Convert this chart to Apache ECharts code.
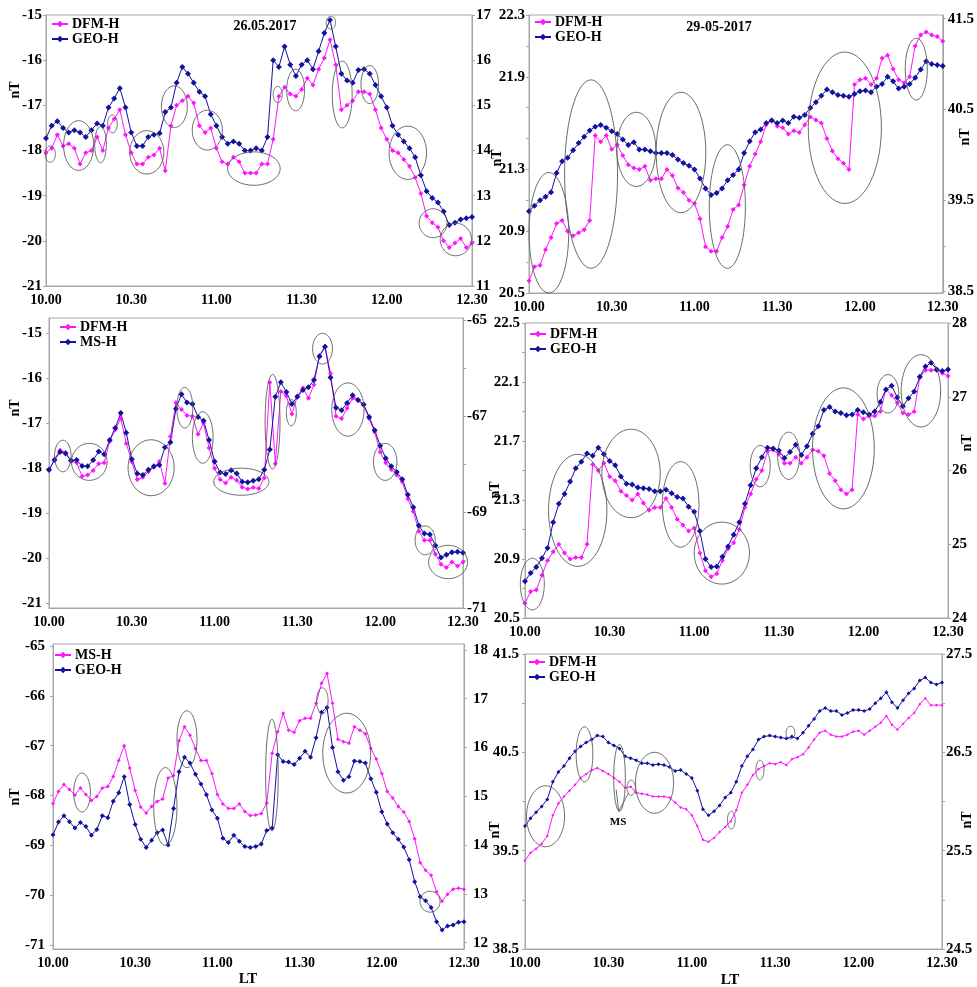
<!DOCTYPE html>
<html>
<head>
<meta charset="utf-8">
<script src="https://cdn.jsdelivr.net/npm/echarts@6/dist/echarts.min.js"></script>
<style>
  html, body { margin: 0; padding: 0; background: #fff; }
  #chart { width: 977px; height: 987px; }
</style>
</head>
<body>
<div id="chart"></div>
<script>
// Local time, minutes after 10:00, one sample every 2 minutes
const minutes = [0,2,4,6,8,10,12,14,16,18,20,22,24,26,28,30,32,34,36,38,40,42,44,46,48,50,52,54,56,58,
  60,62,64,66,68,70,72,74,76,78,80,82,84,86,88,90,92,94,96,98,100,102,104,106,108,110,112,114,116,118,
  120,122,124,126,128,130,132,134,136,138,140,142,144,146,148,150];
const timeTicks = [0, 30, 60, 90, 120, 150];
const timeTickLabels = ['10.00', '10.30', '11.00', '11.30', '12.00', '12.30'];

// 26.05.2017 — DFM-H vs GEO-H
const dfm26a = [-18.05,-17.95,-17.65,-17.9,-17.85,-17.95,-18.3,-18.05,-18.0,-17.7,
  -18.0,-17.5,-17.3,-17.1,-17.65,-18.05,-18.3,-18.3,-18.15,-18.1,
  -17.95,-18.45,-17.45,-17.0,-16.9,-16.8,-16.95,-17.45,-17.6,-17.5,
  -17.95,-18.25,-18.3,-18.15,-18.25,-18.5,-18.5,-18.5,-18.3,-18.3,
  -17.75,-16.8,-16.6,-16.75,-16.8,-16.65,-16.4,-16.55,-16.2,-15.95,
  -15.55,-16.1,-17.1,-17.0,-16.9,-16.7,-16.7,-16.75,-17.1,-17.5,
  -17.75,-18.0,-18.05,-18.2,-18.35,-18.6,-18.95,-19.45,-19.6,-19.7,
  -20.0,-20.15,-20.05,-19.95,-20.15,-20.05];
const geo26a = [14.27,14.55,14.65,14.5,14.4,14.45,14.4,14.3,14.45,14.6,
  14.55,14.95,15.15,15.38,14.95,14.4,14.1,14.1,14.3,14.35,
  14.38,14.85,14.95,15.5,15.85,15.7,15.5,15.3,15.2,14.8,
  14.55,14.3,14.15,14.2,14.15,14.0,14.0,14.05,14.0,14.3,
  16.0,15.85,16.3,15.9,15.65,15.9,16.0,15.8,16.2,16.6,
  16.89,16.3,15.7,15.55,15.5,15.78,15.8,15.7,15.45,15.2,
  14.95,14.55,14.35,14.2,14.05,13.85,13.45,13.1,12.95,12.85,
  12.65,12.35,12.4,12.47,12.5,12.53];

// 26.05.2017 — DFM-H vs MS-H
const dfm26b = [-18.05,-17.8,-17.6,-17.65,-17.85,-17.88,-18.18,-18.15,-18.05,-17.9,
  -17.88,-17.4,-17.15,-16.9,-17.45,-17.86,-18.25,-18.2,-18.08,-17.98,
  -17.85,-18.34,-17.3,-16.55,-16.7,-16.83,-16.85,-17.25,-17.0,-17.55,
  -18.0,-18.25,-18.33,-18.2,-18.27,-18.42,-18.46,-18.43,-18.45,-18.22,
  -16.1,-17.9,-16.3,-16.4,-16.8,-16.4,-16.22,-16.45,-16.15,-15.5,
  -15.3,-15.9,-16.85,-16.9,-16.67,-16.45,-16.5,-16.6,-16.9,-17.2,
  -17.64,-17.88,-18.03,-18.15,-18.3,-18.68,-18.96,-19.4,-19.6,-19.6,
  -19.9,-20.13,-20.2,-20.08,-20.17,-20.08];
const ms26b = [-68.12,-67.92,-67.75,-67.78,-67.93,-67.92,-68.04,-68.05,-67.92,-67.74,
  -67.8,-67.5,-67.25,-66.94,-67.35,-67.9,-68.2,-68.23,-68.12,-68.05,
  -68.02,-67.65,-67.55,-66.85,-66.55,-66.72,-66.75,-67.02,-67.1,-67.5,
  -67.95,-68.18,-68.21,-68.13,-68.2,-68.37,-68.38,-68.35,-68.32,-68.12,
  -67.7,-66.6,-66.3,-66.5,-66.75,-66.6,-66.46,-66.4,-66.25,-65.76,
  -65.56,-66.2,-66.83,-66.88,-66.73,-66.57,-66.67,-66.76,-67.02,-67.3,
  -67.62,-67.88,-68.05,-68.17,-68.32,-68.64,-68.9,-69.28,-69.45,-69.47,
  -69.7,-69.95,-69.89,-69.84,-69.83,-69.85];

// 26.05.2017 — MS-H vs GEO-H
const ms26c = [-68.16,-67.92,-67.78,-67.88,-67.99,-67.85,-67.98,-68.1,-68.02,-67.85,
  -67.82,-67.62,-67.3,-67.0,-67.45,-67.9,-68.23,-68.35,-68.22,-68.12,
  -68.07,-67.65,-67.6,-66.9,-66.62,-66.79,-67.06,-67.3,-67.3,-67.56,
  -67.98,-68.17,-68.26,-68.26,-68.17,-68.32,-68.4,-68.39,-68.36,-68.15,
  -67.15,-66.72,-66.35,-66.69,-66.73,-66.5,-66.45,-66.45,-66.15,-65.75,
  -65.55,-66.15,-66.87,-66.92,-66.95,-66.62,-66.69,-66.76,-67.05,-67.27,
  -67.56,-67.92,-68.05,-68.22,-68.33,-68.52,-68.87,-69.35,-69.5,-69.6,
  -69.93,-70.12,-69.98,-69.88,-69.86,-69.88];
const geo26c = [14.21,14.47,14.6,14.48,14.35,14.46,14.38,14.2,14.32,14.6,
  14.56,14.9,15.07,15.4,14.83,14.42,14.12,13.95,14.1,14.25,
  14.31,14.0,14.75,15.5,15.8,15.68,15.45,15.25,15.03,14.72,
  14.55,14.14,14.05,14.2,14.08,13.97,13.95,13.97,14.02,14.3,
  14.35,15.85,15.71,15.7,15.65,15.78,15.92,15.8,16.2,16.72,
  16.82,16.0,15.5,15.33,15.4,15.72,15.71,15.68,15.36,15.08,
  14.68,14.43,14.25,14.12,13.96,13.7,13.25,12.94,12.86,12.72,
  12.43,12.26,12.34,12.36,12.42,12.43];

// 29-05-2017 — DFM-H vs GEO-H, three station pairs
const dfm29a = [20.58,20.67,20.68,20.78,20.86,20.95,20.97,20.9,20.87,20.89,
  20.91,20.97,21.52,21.48,21.52,21.43,21.46,21.39,21.33,21.31,
  21.3,21.32,21.23,21.24,21.24,21.3,21.26,21.18,21.15,21.1,
  21.08,20.98,20.8,20.77,20.77,20.86,20.93,21.04,21.07,21.2,
  21.32,21.4,21.48,21.59,21.62,21.58,21.57,21.53,21.55,21.54,
  21.59,21.64,21.62,21.6,21.5,21.42,21.37,21.34,21.3,21.85,
  21.88,21.89,21.85,21.89,22.02,22.04,21.95,21.88,21.86,21.9,
  22.1,22.17,22.19,22.17,22.16,22.13];
const geo29a = [39.38,39.44,39.5,39.54,39.59,39.8,39.93,39.97,40.05,40.13,
  40.2,40.27,40.31,40.33,40.3,40.26,40.23,40.17,40.11,40.14,
  40.06,40.06,40.04,40.02,40.02,40.02,40.0,39.95,39.91,39.88,
  39.84,39.74,39.63,39.56,39.58,39.63,39.72,39.78,39.84,40.02,
  40.15,40.25,40.28,40.35,40.38,40.35,40.38,40.35,40.42,40.41,
  40.44,40.52,40.58,40.65,40.72,40.69,40.66,40.65,40.64,40.67,
  40.7,40.71,40.69,40.75,40.78,40.86,40.81,40.73,40.75,40.78,
  40.85,40.94,41.03,41.0,40.99,40.98];

const dfm29b = [20.6,20.68,20.69,20.79,20.89,20.95,21.0,20.94,20.9,20.91,
  20.91,21.0,21.54,21.5,21.55,21.46,21.43,21.36,21.33,21.3,
  21.34,21.28,21.23,21.25,21.25,21.31,21.25,21.17,21.13,21.09,
  21.11,20.94,20.82,20.78,20.8,20.89,20.97,21.01,21.1,21.25,
  21.34,21.44,21.5,21.63,21.64,21.61,21.55,21.55,21.59,21.55,
  21.59,21.64,21.63,21.6,21.48,21.43,21.37,21.34,21.37,21.88,
  21.85,21.87,21.87,21.9,22.05,22.01,21.96,21.89,21.88,21.9,
  22.13,22.18,22.18,22.18,22.16,22.14];
const geo29b = [24.5,24.61,24.69,24.81,24.95,25.3,25.55,25.68,25.85,26.03,
  26.12,26.23,26.2,26.31,26.22,26.13,26.07,25.92,25.82,25.81,
  25.77,25.76,25.75,25.72,25.72,25.74,25.69,25.64,25.62,25.51,
  25.44,25.18,24.8,24.69,24.7,24.83,24.97,25.13,25.3,25.55,
  25.8,26.03,26.18,26.31,26.3,26.27,26.17,26.25,26.35,26.21,
  26.33,26.5,26.6,26.82,26.86,26.8,26.78,26.75,26.76,26.82,
  26.79,26.76,26.8,26.93,27.1,27.15,26.99,26.87,26.98,27.07,
  27.27,27.41,27.46,27.37,27.35,27.37];

const dfm29c = [39.4,39.48,39.52,39.57,39.65,39.86,39.98,40.05,40.11,40.17,
  40.24,40.28,40.32,40.34,40.31,40.28,40.24,40.2,40.14,40.15,
  40.09,40.08,40.07,40.05,40.05,40.05,40.04,39.99,39.94,39.92,
  39.86,39.75,39.61,39.59,39.63,39.69,39.74,39.8,39.91,40.09,
  40.17,40.27,40.33,40.36,40.39,40.38,40.4,40.37,40.43,40.45,
  40.48,40.55,40.63,40.7,40.72,40.68,40.66,40.66,40.68,40.71,
  40.72,40.68,40.72,40.76,40.8,40.87,40.78,40.73,40.79,40.85,
  40.9,40.99,41.05,40.98,40.98,40.98];
const geo29c = [25.75,25.83,25.89,25.95,26.02,26.2,26.3,26.36,26.44,26.51,
  26.56,26.6,26.63,26.67,26.66,26.6,26.57,26.54,26.46,26.44,
  26.42,26.39,26.39,26.37,26.38,26.37,26.35,26.31,26.32,26.28,
  26.24,26.11,25.92,25.86,25.9,25.96,26.04,26.09,26.2,26.36,
  26.46,26.53,26.63,26.66,26.67,26.66,26.65,26.64,26.66,26.64,
  26.7,26.77,26.84,26.92,26.95,26.92,26.92,26.88,26.9,26.93,
  26.93,26.92,26.94,27.0,27.05,27.11,27.01,26.95,27.03,27.1,
  27.15,27.23,27.26,27.21,27.19,27.21];

// Highlighted intervals: [minute, value, half-width (min), half-height (nT)] on the left axis
const rings26a = [[1.5,-18.08,1.8,0.18],[11.5,-17.89,5.3,0.55],[19.2,-17.87,2.05,0.4],[23.4,-17.41,1.7,0.2],
  [35.5,-18.04,6.0,0.48],[45.2,-17.03,4.55,0.46],[56.8,-17.55,5.3,0.44],[73.2,-18.4,9.25,0.37],
  [81.6,-16.76,1.6,0.18],[87.9,-16.66,3.15,0.46],[100.3,-15.17,1.65,0.14],[104.3,-16.76,3.5,0.74],
  [114.0,-16.54,3.1,0.42],[127.4,-18.05,6.6,0.59],[136.3,-19.61,4.9,0.32],[144.3,-19.97,5.5,0.36]];
const rings26b = [[5.0,-17.73,3.0,0.35],[14.6,-17.86,6.45,0.41],[37.0,-17.99,8.35,0.62],[49.2,-16.66,2.9,0.45],
  [55.7,-17.32,3.75,0.57],[69.7,-18.3,10.0,0.3],[81.0,-16.97,2.7,1.05],[87.8,-16.77,1.8,0.29],
  [99.1,-15.35,3.6,0.34],[108.3,-16.7,5.85,0.59],[121.8,-17.86,4.25,0.41],[136.3,-19.6,3.65,0.32],
  [144.6,-20.08,7.05,0.37]];
const rings26c = [[10.6,-67.94,3.05,0.39],[41.0,-68.22,4.25,0.78],[48.9,-66.87,3.65,0.57],[79.9,-67.59,2.3,1.12],
  [98.3,-66.1,2.1,0.26],[107.2,-67.15,8.75,0.8],[137.6,-70.13,3.65,0.21]];
const rings29a = [[7.2,20.89,7.2,0.39],[22.5,21.27,9.6,0.61],[38.9,21.43,7.05,0.24],[55.1,21.41,9.0,0.39],
  [71.9,21.06,6.55,0.4],[114.5,21.57,13.25,0.49],[140.4,21.95,4.0,0.2]];
const rings29b = [[2.6,20.73,4.25,0.175],[18.7,21.23,10.35,0.38],[37.6,21.48,10.35,0.3],[55.2,21.27,6.5,0.29],
  [69.8,20.94,9.8,0.21],[83.4,21.53,3.55,0.14],[93.5,21.6,3.9,0.16],[112.9,21.65,10.95,0.41],
  [128.7,22.02,3.85,0.13],[140.4,22.04,7.0,0.245]];
const rings29c = [[7.4,39.85,6.85,0.31],[21.4,40.48,3.0,0.28],[34.0,40.24,2.1,0.34],[38.2,40.14,1.5,0.077],
  [46.6,40.19,6.85,0.31],[74.2,39.81,1.4,0.09],[84.5,40.32,1.45,0.1],[95.5,40.7,1.6,0.065]];
// Pointer lines from the "MS" note: [from minute, from value, to minute, to value]
const msPointers = [[33.7,39.9,32.8,40.12],[33.7,39.9,37.3,40.09]];

const FONT = '"Liberation Serif", "Times New Roman", serif';
const MAGENTA = '#ff14ff';
const BLUE = '#12129e';
const FRAME = '#a6a6a6';

const range = (a, b, s) => { const r = []; for (let v = a; v <= b + 1e-9; v += s) r.push(+v.toFixed(2)); return r; };

const panels = [
  { grid: { left: 46, top: 15, width: 426, height: 271 },
    yL: { min: -21, max: -15, labels: range(-21, -15, 1), margin: 4 },
    yR: { min: 11, max: 17, labels: range(11, 17, 1), margin: 4 },
    a: { name: 'DFM-H', data: dfm26a }, b: { name: 'GEO-H', data: geo26a },
    rings: rings26a, legend: { left: 51, top: 17 }, xMargin: 7, sym: 5 },
  { grid: { left: 529, top: 15, width: 415, height: 278 },
    yL: { min: 20.5, max: 22.3, labels: [20.5, 20.9, 21.3, 21.9, 22.3], ticks: range(20.5, 22.3, 0.2), margin: 4, dec: 1 },
    yR: { min: 38.48, max: 41.54, labels: [38.5, 39.5, 40.5, 41.5], ticks: [38.5, 39, 39.5, 40.5, 41.5], margin: 5, dec: 1 },
    a: { name: 'DFM-H', data: dfm29a }, b: { name: 'GEO-H', data: geo29a },
    rings: rings29a, legend: { left: 534, top: 15 }, xMargin: 7, sym: 5 },
  { grid: { left: 49, top: 318, width: 414, height: 290 },
    yL: { min: -21.1, max: -14.67, labels: range(-21, -15, 1), margin: 7 },
    yR: { min: -71, max: -64.96, labels: [-71, -69, -67, -65], ticks: range(-71, -65, 1), margin: 4 },
    a: { name: 'DFM-H', data: dfm26b }, b: { name: 'MS-H', data: ms26b },
    rings: rings26b, legend: { left: 59, top: 320 }, xMargin: 7, sym: 5 },
  { grid: { left: 525, top: 323, width: 423, height: 295 },
    yL: { min: 20.5, max: 22.5, labels: range(20.5, 22.5, 0.4), ticks: range(20.5, 22.5, 0.2), margin: 5, dec: 1 },
    yR: { min: 24, max: 28, labels: range(24, 28, 1), margin: 4 },
    a: { name: 'DFM-H', data: dfm29b }, b: { name: 'GEO-H', data: geo29b },
    rings: rings29b, legend: { left: 529, top: 327 }, xMargin: 7, sym: 5 },
  { grid: { left: 53, top: 644, width: 411, height: 305 },
    yL: { min: -71.08, max: -64.96, labels: range(-71, -65, 1), margin: 8 },
    yR: { min: 11.87, max: 18.12, labels: range(12, 18, 1), margin: 9 },
    a: { name: 'MS-H', data: ms26c }, b: { name: 'GEO-H', data: geo26c },
    rings: rings26c, legend: { left: 54, top: 648 }, xMargin: 7, sym: 4 },
  { grid: { left: 525, top: 654, width: 417, height: 295 },
    yL: { min: 38.5, max: 41.5, labels: [38.5, 39.5, 40.5, 41.5], ticks: range(38.5, 41.5, 0.5), margin: 6, dec: 1 },
    yR: { min: 24.5, max: 27.5, labels: [24.5, 25.5, 26.5, 27.5], ticks: range(24.5, 27.5, 0.5), margin: 4, dec: 1 },
    a: { name: 'DFM-H', data: dfm29c }, b: { name: 'GEO-H', data: geo29c },
    rings: rings29c, legend: { left: 528, top: 655 }, xMargin: 7, sym: 3 }
];

const labelFont = { color: '#000', fontFamily: FONT, fontWeight: 'bold', fontSize: 15 };

function yAxis(gridIndex, position, ax) {
  return {
    type: 'value', gridIndex, position, min: ax.min, max: ax.max,
    axisLine: { show: true, lineStyle: { color: FRAME, width: 1 } },
    axisTick: { show: true, length: 3, customValues: ax.ticks || ax.labels, lineStyle: { color: FRAME } },
    axisLabel: Object.assign({ customValues: ax.labels, margin: ax.margin,
      formatter: v => ax.dec ? Number(v).toFixed(ax.dec) : String(Math.round(v)) }, labelFont),
    splitLine: { show: false }
  };
}

const option = {
  animation: false,
  backgroundColor: '#fff',
  grid: [], xAxis: [], yAxis: [], series: [], legend: [], graphic: []
};

panels.forEach((p, i) => {
  option.grid.push(Object.assign({ show: true, borderColor: FRAME, borderWidth: 1, backgroundColor: 'transparent' }, p.grid));
  option.xAxis.push({
    type: 'value', gridIndex: i, min: 0, max: 150,
    axisLine: { show: true, lineStyle: { color: FRAME } },
    axisTick: { show: false }, splitLine: { show: false },
    axisLabel: Object.assign({ customValues: timeTicks, margin: p.xMargin, fontSize: 14,
      formatter: v => timeTickLabels[timeTicks.indexOf(Math.round(v))] }, labelFont, { fontSize: 14 })
  });
  option.yAxis.push(yAxis(i, 'left', p.yL));
  option.yAxis.push(yAxis(i, 'right', p.yR));

  const key = '#' + i;
  const lineSeries = (s, color, yIdx, symbol, size) => ({
    type: 'line', name: s.name + key, xAxisIndex: i, yAxisIndex: yIdx,
    data: minutes.map((m, k) => [m, s.data[k]]),
    symbol, symbolSize: size, showSymbol: true, showAllSymbol: true,
    lineStyle: { color, width: 1 }, itemStyle: { color }, z: 3
  });
  option.series.push(lineSeries(p.a, MAGENTA, 2 * i, 'diamond', p.sym));
  option.series.push(lineSeries(p.b, BLUE, 2 * i + 1, 'diamond', p.sym + 1));

  option.series.push({
    type: 'custom', xAxisIndex: i, yAxisIndex: 2 * i, silent: true, z: 4,
    data: p.rings, encode: { x: 0, y: 1 }, clip: false,
    renderItem(params, api) {
      const c = api.coord([api.value(0), api.value(1)]);
      const s = api.size([api.value(2), api.value(3)]);
      const pts = [];
      for (let k = 0; k < 72; k++) {
        const a = k / 72 * Math.PI * 2;
        pts.push([c[0] + s[0] * Math.cos(a), c[1] + s[1] * Math.sin(a)]);
      }
      return { type: 'polygon', shape: { points: pts },
        style: { fill: 'none', stroke: '#5a5a5a', lineWidth: 0.9 } };
    }
  });

  option.legend.push({
    orient: 'vertical', left: p.legend.left, top: p.legend.top,
    itemWidth: 16, itemHeight: 8, itemGap: 1, padding: 0, selectedMode: false,
    data: [p.a.name + key, p.b.name + key],
    formatter: n => n.split('#')[0],
    textStyle: { color: '#000', fontFamily: FONT, fontWeight: 'bold', fontSize: 14, padding: [0, 0, 0, -1] }
  });
});

// "MS" pointer lines in the last panel
option.series.push({
  type: 'custom', xAxisIndex: 5, yAxisIndex: 10, silent: true, z: 4,
  data: msPointers, encode: { x: [0, 2], y: [1, 3] }, clip: false,
  renderItem(params, api) {
    const a = api.coord([api.value(0), api.value(1)]);
    const b = api.coord([api.value(2), api.value(3)]);
    return { type: 'line', shape: { x1: a[0], y1: a[1], x2: b[0], y2: b[1] },
      style: { stroke: '#5a5a5a', lineWidth: 0.9 } };
  }
});

// Titles, axis names and notes
const notes = [
  { text: '26.05.2017', x: 265, y: 26, size: 14 },
  { text: '29-05-2017', x: 719, y: 27, size: 14 },
  { text: 'nT', x: 15, y: 90, size: 14, rot: true },
  { text: 'nT', x: 497, y: 158, size: 14, rot: true },
  { text: 'nT', x: 965, y: 137, size: 14, rot: true },
  { text: 'nT', x: 15, y: 408, size: 14, rot: true },
  { text: 'nT', x: 495, y: 490, size: 14, rot: true },
  { text: 'nT', x: 967, y: 443, size: 14, rot: true },
  { text: 'nT', x: 15, y: 797, size: 14, rot: true },
  { text: 'nT', x: 495, y: 830, size: 14, rot: true },
  { text: 'nT', x: 967, y: 820, size: 14, rot: true },
  { text: 'LT', x: 248, y: 979, size: 15 },
  { text: 'LT', x: 730, y: 980, size: 15 },
  { text: 'MS', x: 618, y: 822, size: 11 }
];
notes.forEach(n => {
  option.graphic.push({
    type: 'text', x: n.x, y: n.y, rotation: n.rot ? Math.PI / 2 : 0, z: 10,
    style: { text: n.text, fill: '#000', font: 'bold ' + n.size + 'px ' + FONT,
      align: 'center', verticalAlign: 'middle' }
  });
});

const chart = echarts.init(document.getElementById('chart'), null, { renderer: 'canvas' });
chart.setOption(option);
</script>
</body>
</html>
